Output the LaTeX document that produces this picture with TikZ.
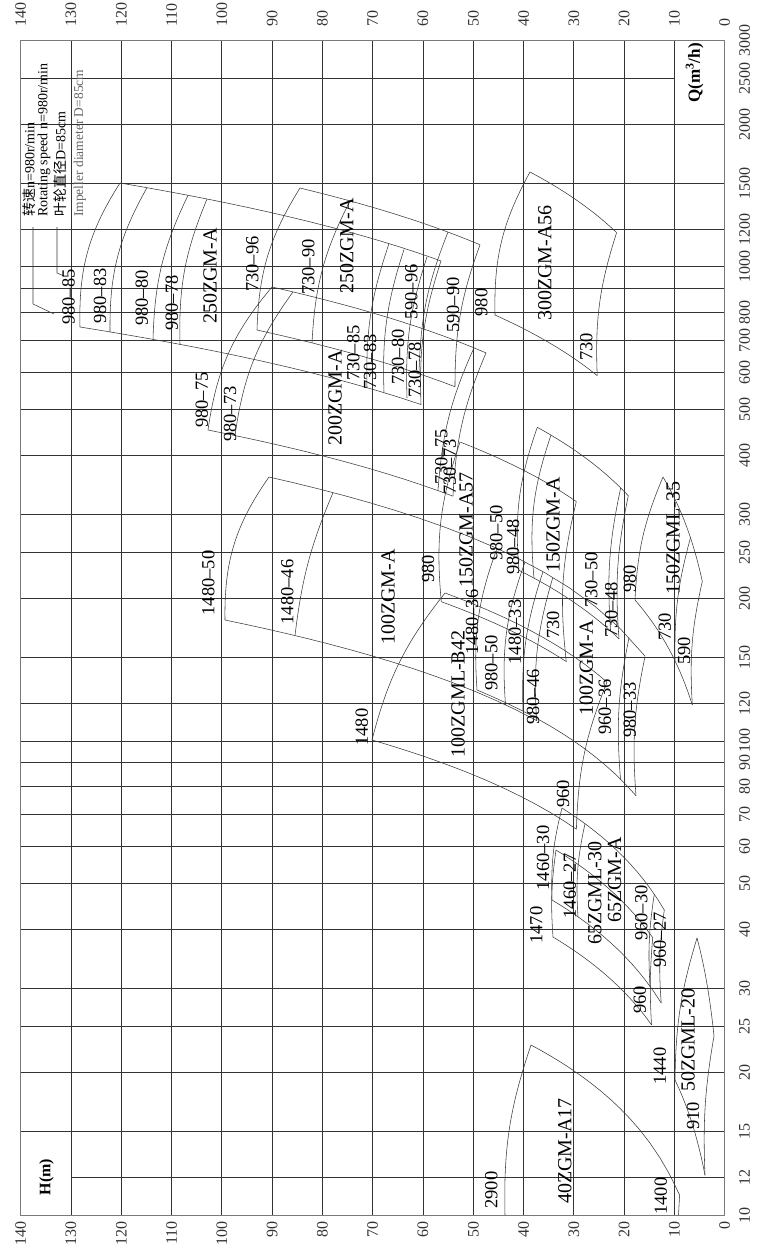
\documentclass[tikz,border=0pt]{standalone}
\usepackage{fontspec}
\setmainfont{Liberation Serif}
\newfontfamily\cjk{Noto Sans CJK SC}
\usetikzlibrary{positioning}
\definecolor{gridgray}{HTML}{333333}
\definecolor{framegray}{HTML}{7A7A7A}
\definecolor{curvegray}{HTML}{3A3A3A}
\definecolor{legendgray}{HTML}{666666}
% similarity line H ~ Q^2 from (#1,#2) to x=#3 (picture units)
\newcommand{\simline}[3]{\draw[curve] plot[domain=#1:#3,samples=16,variable=\t] (\t,{#2-237.03*log10((724.7-\t)/(724.7-#1))});}

\begin{document}
\begin{tikzpicture}[x=1pt,y=-1pt,
    gridline/.style={draw=gridgray,line width=0.8pt},
    curve/.style={draw=curvegray,line width=0.55pt},
    tick/.style={font=\fontsize{16}{16}\selectfont,text=gridgray,rotate=90,inner sep=0pt},
    speed/.style={font=\fontsize{18.5}{18.5}\selectfont,rotate=90,inner sep=0pt},
    model/.style={font=\fontsize{20}{20}\selectfont,rotate=90,inner sep=0pt},
    legend/.style={font=\fontsize{14}{14}\selectfont,rotate=90,anchor=west,inner sep=0pt}]
\useasboundingbox (0,0) rectangle (756,1258);

% grid, H direction
\foreach \h in {0,10,...,140}{
  \pgfmathsetmacro{\xx}{724.7-5.0286*\h}
  \draw[gridline] (\xx,40.7) -- (\xx,1215);
  \node[tick,anchor=west] (ht\h) at (\xx,27) {\h};
  \node[tick,anchor=east] (hb\h) at (\xx,1221) {\h};
}
% grid, Q direction (log)
\foreach \q in {12,15,20,25,30,40,50,60,70,80,90,100,120,150,200,250,300,400,500,600,700,800,900,1000,1200,1500,2000,2500}{
  \pgfmathsetmacro{\yy}{1215-474.06*log10(\q/10)}
  \pgfmathsetmacro{\xa}{\q==12 ? 70.96 : 20.7}
  \pgfmathsetmacro{\xb}{\q==2500 ? 674.4 : 724.7}
  \draw[gridline] (\xa,\yy) -- (\xb,\yy);
}
\foreach \q in {10,12,15,20,25,30,40,50,60,70,80,90,100,120,150,200,250,300,400,500,600,700,800,1000,1200,1500,2000,2500,3000}{
  \pgfmathsetmacro{\yy}{1215-474.06*log10(\q/10)}
  \node[tick] (q\q) at (744.5,\yy) {\q};
}
\draw[draw=framegray,line width=0.9pt] (20.7,40.7) rectangle (724.7,1215);

% axis names
\node[rotate=90,font=\bfseries\fontsize{17}{17}\selectfont] (qname) at (694.5,73) {Q(m\textsuperscript{3}/h)};
\node[rotate=90,font=\bfseries\fontsize{16}{16}\selectfont] (hname) at (46.5,1177) {H(m)};

% legend
\node[legend] (leg1) at (29,217) {{\cjk 转速}n=980r/min};
\node[legend] (leg2) at (44,217) {Rotating speed n=980r/min};
\node[legend] (leg3) at (60,217) {{\cjk 叶轮直径}D=85cm};
\node[legend,text=legendgray,font=\fontsize{13.5}{13.5}\selectfont] (leg4) at (80,217) {Impeller diameter D=85cm};
\coordinate (k1) at (33,227);
\coordinate (k2) at (33,304);
\coordinate (k3) at (54,314);
\coordinate (k4) at (57,227);
\coordinate (k5) at (57,273);
\coordinate (k6) at (64,276);
\draw[curve] (k1) -- (k2) -- (k3);
\draw[curve] (k4) -- (k5) -- (k6);

% 250ZGM-A, D 85..78
\simline{120}{183}{441}
\simline{80}{327}{421}
\draw[curve] (120,183) to[bend right=17] (80,327);
\draw[curve] (147,187.7) to[bend right=15] (110,331.9);
\draw[curve] (188,195.3) to[bend right=12] (153,339.4);
\draw[curve] (207,199) to[bend right=12] (180,344.4);
\draw[curve] (389,243.6) to[bend right=10] (367,387.6);
\draw[curve] (404,249.5) to[bend right=10] (384,392.5);
\draw[curve] (427,257) to[bend right=10] (407,398);
\draw[curve] (441,260.9) to[bend right=10] (421,404.5);
% 250ZGM-A, D 96/90
\simline{300}{188}{480}
\simline{257}{330}{455}
\draw[curve] (300,188) to[bend right=15] (257,330);
\draw[curve] (350,200.9) to[bend right=12] (312,342.9);
\draw[curve] (448,232) to[bend right=10] (419,373.8);
\draw[curve] (480,244.8) to[bend right=10] (455,386.7);

% 200ZGM-A
\simline{272}{287}{486}
\simline{208}{430}{453}
\draw[curve] (272,287) to[bend right=16] (208,430);
\draw[curve] (293,291.9) to[bend right=14] (235,435.5);
\draw[curve] (474,347.8) to[bend right=10] (438,490.6);
\draw[curve] (486,352.9) to[bend right=10] (453,496.2);

% 300ZGM-A56
\simline{530}{172}{616.6}
\simline{495}{315}{597.2}
\draw[curve] (530,172) to[bend right=15] (495,315);
\draw[curve] (616.6,232.6) to[bend right=10] (597.2,375.6);

% 100ZGM-A
\simline{269}{477}{645}
\simline{225}{620}{537}
\simline{477}{690}{636}
\draw[curve] (269,477) to[bend right=18] (225,620);
\draw[curve] (333,492.6) to[bend right=8] (295,635.5);
\draw[curve] (525,562) to[bend right=12] (505.5,704.8);
\draw[curve] (552.7,577.9) to[bend right=10] (536.6,720.8);
\draw[curve] (497,548.4) to[bend right=12] (477,690);
\draw[curve] (543,571.6) to[bend right=10] (523,711);
\draw[curve] (629,637.7) to[bend right=8] (620.5,779.1);
\draw[curve] (645,656.5) to[bend right=8] (636,795.7);

% 150ZGM-A57
\simline{460}{442}{576.3}
\simline{441.3}{601.7}{566.3}
\draw[curve] (460,442) to[bend right=12] (441.3,601.7);
\draw[curve] (576.3,501.6) to[bend right=10] (566.3,661.6);

% 150ZGM-A
\simline{537.3}{427.3}{628.3}
\simline{519}{570.3}{619}
\draw[curve] (537.3,427.3) to[bend right=12] (519,570.3);
\draw[curve] (551,435.1) to[bend right=12] (534,578.1);
\draw[curve] (620.7,487.9) to[bend right=8] (610.6,631);
\draw[curve] (628.3,495.7) to[bend right=8] (619,638.8);

% 100ZGML-B42
\simline{445}{593}{607}
\simline{372}{740}{576.4}
\draw[curve] (445,593) to[bend right=12] (372,740);
\draw[curve] (607,682.1) to[bend right=10] (576.4,829.2);

% 150ZGML-35
\simline{663}{477}{702.3}
\simline{635}{600}{692.3}
\draw[curve] (663,477) to[bend right=10] (635,600);
\draw[curve] (690.5,537.6) to[bend right=8] (675,660.6);
\draw[curve] (702.3,581.3) to[bend right=8] (692.3,704.8);

% 65ZGML-30
\simline{562}{808}{664.3}
\simline{552}{900}{661.2}
\draw[curve] (562,808) to[bend right=8] (552,900);
\draw[curve] (585,823.7) to[bend right=8] (578,916.8);
\draw[curve] (654.3,894.2) to[bend right=6] (650,986.3);
\draw[curve] (664.3,910) to[bend right=6] (661.2,1003);

% 65ZGM-A
\simline{556}{850}{652.7}
\simline{553}{937}{651.5}
\draw[curve] (556,850) to[bend right=6] (553,937);
\draw[curve] (652.7,937.7) to[bend right=4] (651.5,1024.8);

% 40ZGM-A17
\simline{531}{1045}{679.6}
\draw[curve] (531,1045) to[bend right=10] (505,1215);
\draw[curve] (679.6,1195) -- (678.5,1215);

% 50ZGML-20
\simline{697}{938}{714}
\simline{675}{1080}{705}
\draw[curve] (697,938) to[bend right=8] (675,1080);
\draw[curve] (714,1035.9) to[bend right=6] (705,1175);

% labels, speed / diameter
\node[speed] (s1) at (68.5,297) {980--85};
\node[speed] (s2) at (100,296) {980--83};
\node[speed] (s3) at (141.7,298) {980--80};
\node[speed] (s4) at (171.7,303) {980--78};
\node[speed] (s5) at (252.3,264) {730--96};
\node[speed] (s6) at (308.3,267) {730--90};
\node[speed] (s7) at (201.7,400) {980--75};
\node[speed] (s8) at (230,414) {980--73};
\node[speed] (s9) at (353.3,353) {730--85};
\node[speed] (s10) at (370,362) {730--83};
\node[speed] (s11) at (398,357) {730--80};
\node[speed] (s12) at (414.7,370) {730--78};
\node[speed] (s13) at (411.3,292) {590--96};
\node[speed] (s14) at (453,305) {590--90};
\node[speed] (s15) at (481.3,302.5) {980};
\node[speed] (s16) at (586.3,346.7) {730};
\node[speed] (s17) at (208.3,583) {1480--50};
\node[speed] (s18) at (287.3,592) {1480--46};
\node[speed] (s19) at (361.7,727) {1480};
\node[speed] (s20) at (441.3,457) {730--75};
\node[speed] (s21) at (449.7,467) {730--73};
\node[speed] (s22) at (428,569) {980};
\node[speed] (s23) at (472,622) {1480--36};
\node[speed] (s24) at (496.3,533) {980--50};
\node[speed] (s25) at (513,547) {980--48};
\node[speed] (s26) at (591.3,580) {730--50};
\node[speed] (s27) at (611.3,610) {730--48};
\node[speed] (s28) at (629.7,579) {980};
\node[speed] (s29) at (664.7,627) {730};
\node[speed] (s30) at (684,651) {590};
\node[speed] (s31) at (491.3,663) {980--50};
\node[speed] (s32) at (514.7,632) {1480--33};
\node[speed] (s33) at (553,625) {730};
\node[speed] (s34) at (533,697) {980--46};
\node[speed] (s35) at (604.7,707) {960--36};
\node[speed] (s36) at (629.7,710) {980--33};
\node[speed] (s37) at (563,794) {960};
\node[speed] (s38) at (536.3,925) {1470};
\node[speed] (s39) at (543,858) {1460--30};
\node[speed] (s40) at (569.7,886) {1460--27};
\node[speed] (s41) at (641.3,913) {960--30};
\node[speed] (s42) at (659.7,940) {960--27};
\node[speed] (s43) at (639.7,1000) {960};
\node[speed] (s44) at (491.3,1190) {2900};
\node[speed] (s45) at (660.7,1196) {1400};
\node[speed] (s46) at (659.7,1066) {1440};
\node[speed] (s47) at (693,1116) {910};

% labels, pump models
\node[model] (m1) at (210,276) {250ZGM-A};
\node[model] (m2) at (346.7,246) {250ZGM-A};
\node[model] (m3) at (335,398) {200ZGM-A};
\node[model] (m4) at (544.7,263) {300ZGM-A56};
\node[model] (m5) at (388,597) {100ZGM-A};
\node[model] (m6) at (466,530) {150ZGM-A57};
\node[model] (m7) at (553,525) {150ZGM-A};
\node[model] (m8) at (673,538) {150ZGML-35};
\node[model] (m9) at (458,694) {100ZGML-B42};
\node[model] (m10) at (586.3,668) {100ZGM-A};
\node[model] (m11) at (594.7,893) {65ZGML-30};
\node[model] (m12) at (614.7,880) {65ZGM-A};
\node[model] (m13) at (564.7,1151) {40ZGM-A17};
\node[model] (m14) at (688,1040) {50ZGML-20};
\end{tikzpicture}
\end{document}
